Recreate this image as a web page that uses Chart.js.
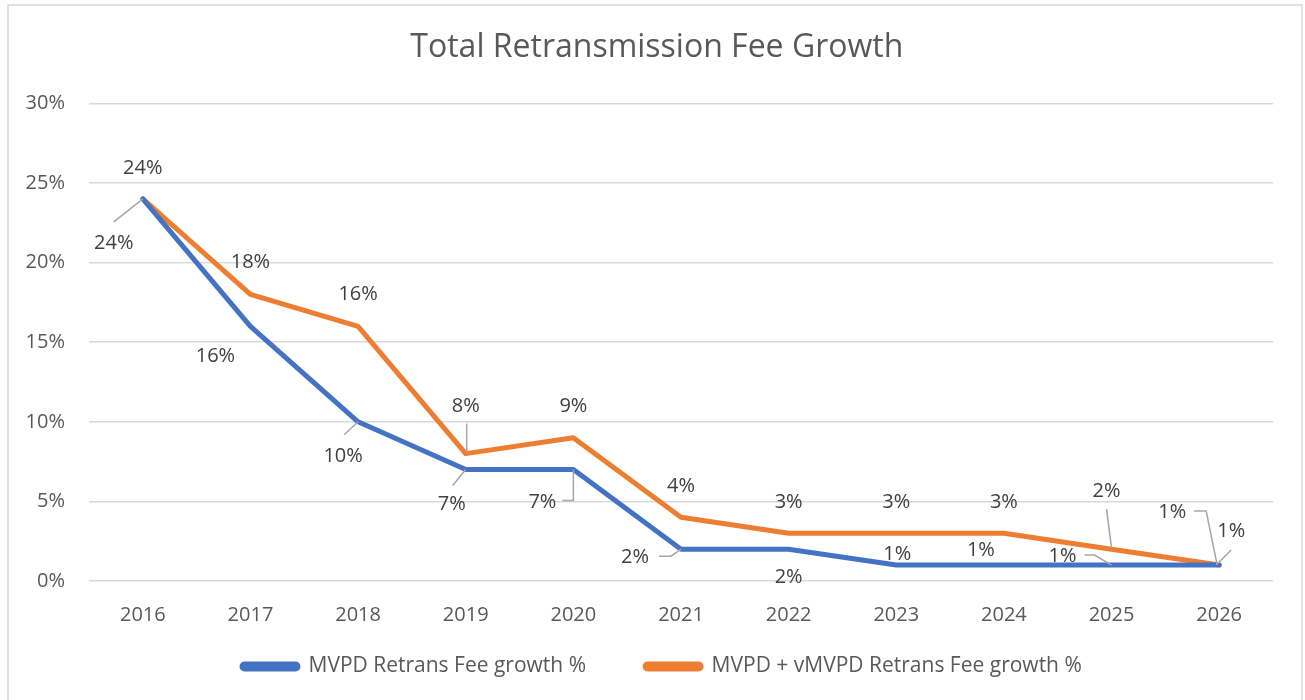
<!DOCTYPE html>
<html>
<head>
<meta charset="utf-8">
<script src="https://cdn.jsdelivr.net/npm/chart.js@4/dist/chart.umd.min.js"></script>
<style>
  html, body { margin: 0; padding: 0; background: #ffffff; }
  #wrap { width: 1305px; height: 700px; position: relative; }
</style>
</head>
<body>
<div id="wrap"><canvas id="c" width="1305" height="700"></canvas></div>
<script>
// ---- data ----
const years = ['2016','2017','2018','2019','2020','2021','2022','2023','2024','2025','2026'];
const mvpdGrowth = [24, 16, 10, 7, 7, 2, 2, 1, 1, 1, 1];
const mvpdVmvpdGrowth = [24, 18, 16, 8, 9, 4, 3, 3, 3, 2, 1];
const seriesNames = ['MVPD Retrans Fee growth %', 'MVPD + vMVPD Retrans Fee growth %'];
const yTicks = [0, 5, 10, 15, 20, 25, 30];
const chartTitle = 'Total Retransmission Fee Growth';

// ---- label placement (pixel offsets from each point; styling only) ----
const labelPlacement = [
  [ // blue series
    {dx:-29, dy:44, lead:[[-29,23],[0,0]]},
    {dx:-35, dy:30},
    {dx:-15, dy:34, lead:[[-14,13],[0,0]]},
    {dx:-14, dy:35, lead:[[-13,16],[0,0]]},
    {dx:-31, dy:33, lead:[[-11,31],[0,31],[0,0]]},
    {dx:-46, dy:8,  lead:[[-22,7],[-10,7],[0,0]]},
    {dx:0,   dy:28},
    {dx:1,   dy:-11},
    {dx:-23, dy:-15},
    {dx:-49, dy:-9, lead:[[-27,-10],[-17,-10],[0,0]]},
    {dx:-47, dy:-53, lead:[[-25,-54],[-13,-54],[-2,0]]}
  ],
  [ // orange series
    {dx:0, dy:-31},
    {dx:0, dy:-32},
    {dx:0, dy:-32},
    {dx:0, dy:-47, lead:[[1,-30],[1,-1]]},
    {dx:0, dy:-31},
    {dx:0, dy:-31},
    {dx:0, dy:-31},
    {dx:0, dy:-31},
    {dx:0, dy:-31},
    {dx:-5, dy:-58, lead:[[-5,-40],[0,-1]]},
    {dx:12, dy:-34, lead:[[12,-15],[-2,-1]]}
  ]
];

const FONT = "'Open Sans', sans-serif";
const TEXT = '#595959';
const LABEL_TEXT = '#404040';

const borderPlugin = {
  id: 'outerBorder',
  beforeDraw(chart) {
    const ctx = chart.ctx;
    ctx.save();
    ctx.fillStyle = '#ffffff';
    ctx.fillRect(0, 0, chart.width, chart.height);
    ctx.strokeStyle = '#D9D9D9';
    ctx.lineWidth = 1.5;
    ctx.strokeRect(8, 5, 1294, 710);
    ctx.restore();
  }
};

const dataLabelPlugin = {
  id: 'pointLabels',
  afterDatasetsDraw(chart) {
    const ctx = chart.ctx;
    ctx.save();
    chart.data.datasets.forEach((ds, di) => {
      const meta = chart.getDatasetMeta(di);
      meta.data.forEach((pt, i) => {
        const pl = labelPlacement[di][i];
        if (pl.lead) {
          ctx.beginPath();
          ctx.strokeStyle = '#A6A6A6';
          ctx.lineWidth = 1.5;
          pl.lead.forEach((p, k) => {
            if (k === 0) ctx.moveTo(pt.x + p[0], pt.y + p[1]);
            else ctx.lineTo(pt.x + p[0], pt.y + p[1]);
          });
          ctx.stroke();
        }
      });
    });
    chart.data.datasets.forEach((ds, di) => {
      const meta = chart.getDatasetMeta(di);
      meta.data.forEach((pt, i) => {
        const pl = labelPlacement[di][i];
        ctx.font = "20px " + FONT;
        ctx.fillStyle = LABEL_TEXT;
        ctx.textAlign = 'center';
        ctx.textBaseline = 'middle';
        ctx.fillText(ds.data[i] + '%', pt.x + pl.dx, pt.y + pl.dy);
      });
    });
    ctx.restore();
  }
};

new Chart(document.getElementById('c'), {
  type: 'line',
  data: {
    labels: years,
    datasets: [
      {
        label: seriesNames[0] + '         ',
        data: mvpdGrowth,
        borderColor: '#4472C4',
        backgroundColor: '#4472C4',
        borderWidth: 5,
        pointRadius: 0,
        tension: 0,
        borderJoinStyle: 'round',
        borderCapStyle: 'round'
      },
      {
        label: seriesNames[1] + '       ',
        data: mvpdVmvpdGrowth,
        borderColor: '#ED7D31',
        backgroundColor: '#ED7D31',
        borderWidth: 5,
        pointRadius: 0,
        tension: 0,
        borderJoinStyle: 'round',
        borderCapStyle: 'round'
      }
    ]
  },
  options: {
    responsive: false,
    animation: false,
    devicePixelRatio: 1,
    layout: { padding: { left: 24, right: 32, top: 0, bottom: 13 } },
    plugins: {
      title: {
        display: true,
        text: '  ' + chartTitle,
        color: TEXT,
        font: { family: FONT, size: 32, weight: 'normal' },
        padding: { top: 29, bottom: 36 }
      },
      legend: {
        position: 'bottom',
        fullSize: false,
        labels: {
          color: TEXT,
          font: { family: FONT, size: 21 },
          boxWidth: 56,
          boxHeight: 5,
          padding: 10,
          useBorderRadius: true,
          borderRadius: 2.5
        }
      },
      tooltip: { enabled: false }
    },
    scales: {
      x: {
        offset: true,
        grid: { display: false, drawTicks: false },
        border: { display: false },
        ticks: { color: TEXT, font: { family: FONT, size: 20 }, padding: 22, maxRotation: 0 },
        afterFit(s) { s.height = 65; }
      },
      y: {
        min: 0, max: 30,
        afterBuildTicks(s) { s.ticks = yTicks.map(v => ({ value: v })); },
        grid: { color: '#D9D9D9', lineWidth: 1.5, drawTicks: false },
        border: { display: false },
        ticks: {
          color: TEXT,
          font: { family: FONT, size: 20 },
          padding: 24,
          callback: v => v + '%'
        },
        afterFit(s) { s.width = 65; }
      }
    }
  },
  plugins: [borderPlugin, dataLabelPlugin]
});
</script>
</body>
</html>
